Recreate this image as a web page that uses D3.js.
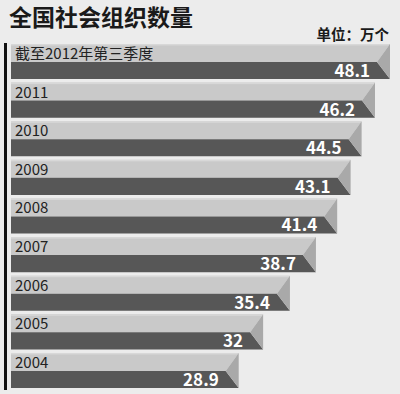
<!DOCTYPE html>
<html>
<head>
<meta charset="utf-8">
<script src="https://cdn.jsdelivr.net/npm/d3@7"></script>
<style>
  body { margin: 0; background: #ececec; }
  text { font-family: "Noto Sans CJK SC", "DejaVu Sans", sans-serif; }
</style>
</head>
<body>
<div id="chart"></div>
<script>
// chart data
const categories = ['截至2012年第三季度', '2011', '2010', '2009', '2008', '2007', '2006', '2005', '2004'];
const values = [48.1, 46.2, 44.5, 43.1, 41.4, 38.7, 35.4, 32, 28.9];
const titleText = '全国社会组织数量';
const unitText = '单位：万个';

const width = 400, height = 394;
const notch = 13;

const svg = d3.select('#chart').append('svg')
    .attr('width', width)
    .attr('height', height);

svg.append('rect')
    .attr('width', width)
    .attr('height', height)
    .attr('fill', '#ececec');

const x = d3.scaleLinear()
    .domain([0, 48.1])
    .range([11, 390]);

const y = d3.scaleBand()
    .domain(categories)
    .range([44, 388])
    .paddingInner(0.093)
    .paddingOuter(0);

const data = categories.map((c, i) => ({ name: c, value: values[i] }));

// title + unit
svg.append('text')
    .attr('x', 9)
    .attr('y', 26)
    .style('font-size', '23px')
    .style('font-weight', 'bold')
    .attr('fill', '#1a1a1a')
    .text(titleText);

svg.append('text')
    .attr('x', 389)
    .attr('y', 40)
    .attr('text-anchor', 'end')
    .style('font-size', '14.5px')
    .style('font-weight', 'bold')
    .attr('fill', '#1a1a1a')
    .text(unitText);

const rows = svg.selectAll('.row')
    .data(data)
    .join('g')
    .attr('class', 'row')
    .attr('transform', d => `translate(0,${y(d.name)})`);

const bw = y.bandwidth();
const mid = 18;

// light top part
rows.append('path')
    .attr('fill', '#c9c9c9')
    .attr('d', d => {
        const x0 = x(0), x1 = x(d.value);
        return `M${x0},0H${x1}L${x1 - notch},${mid}H${x0}Z`;
    });

// thin highlight on top edge
rows.append('rect')
    .attr('x', x(0))
    .attr('y', 0)
    .attr('width', d => x(d.value) - x(0) - 1)
    .attr('height', 1.5)
    .attr('fill', '#d8d8d8');

// dark bottom part
rows.append('path')
    .attr('fill', '#575757')
    .attr('d', d => {
        const x0 = x(0), x1 = x(d.value);
        return `M${x0},${mid}H${x1 - notch}L${x1},${bw}H${x0}Z`;
    });

// fold triangle
rows.append('path')
    .attr('fill', '#a9a9a9')
    .attr('d', d => {
        const x1 = x(d.value);
        return `M${x1},0L${x1 - notch},${mid}L${x1},${bw}Z`;
    });

rows.append('text')
    .attr('x', 15)
    .attr('y', 15)
    .style('font-size', '15px')
    .attr('fill', '#222')
    .text(d => d.name);

rows.append('text')
    .attr('x', d => x(d.value) - 20)
    .attr('y', 33)
    .attr('text-anchor', 'end')
    .style('font-size', '17px')
    .style('font-weight', 'bold')
    .attr('fill', '#fff')
    .text(d => d.value);

// left axis line
svg.append('line')
    .attr('x1', 5.5)
    .attr('x2', 5.5)
    .attr('y1', 43)
    .attr('y2', 390)
    .attr('stroke', '#111')
    .attr('stroke-width', 3);
</script>
</body>
</html>
